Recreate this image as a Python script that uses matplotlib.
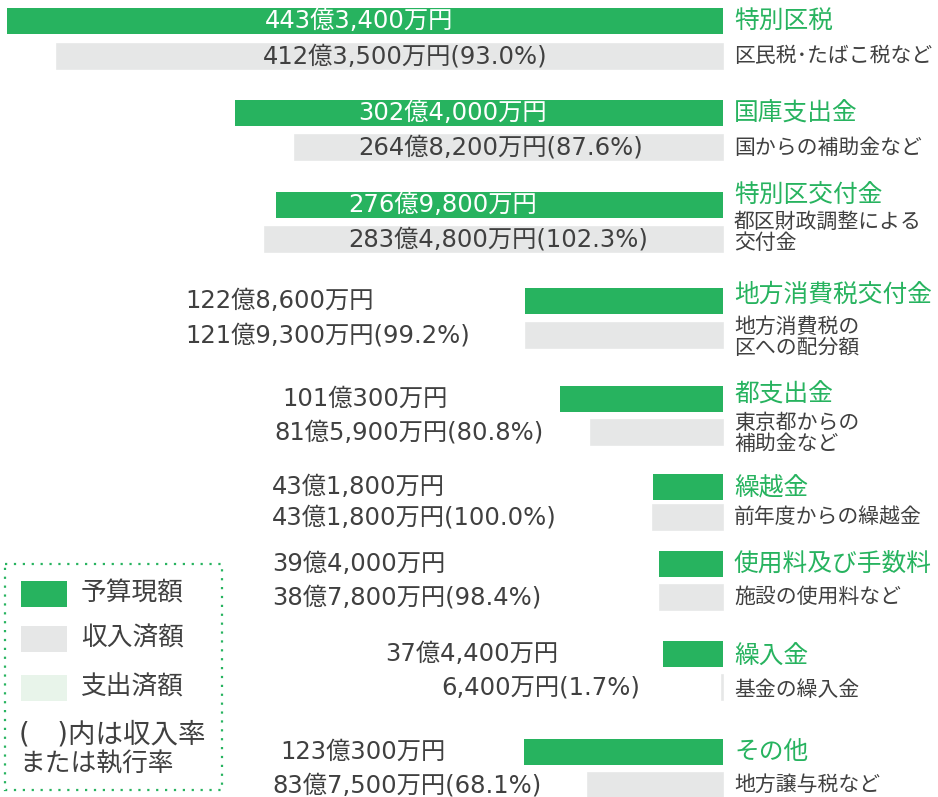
import matplotlib
matplotlib.use("Agg")
import matplotlib.pyplot as plt
from matplotlib.patches import Rectangle
from matplotlib.transforms import blended_transform_factory

plt.rcParams['font.family'] = ['Noto Sans CJK JP', 'DejaVu Sans']
NUMFONT = ['DejaVu Sans', 'Noto Sans CJK JP']

# データ（億円）
titles = ["特別区税", "国庫支出金", "特別区交付金", "地方消費税交付金", "都支出金",
          "繰越金", "使用料及び手数料", "繰入金", "その他"]
subtitles = ["区民税･たばこ税など", "国からの補助金など", "都区財政調整による\n交付金",
             "地方消費税の\n区への配分額", "東京都からの\n補助金など", "前年度からの繰越金",
             "施設の使用料など", "基金の繰入金", "地方譲与税など"]
budget = [443.34, 302.40, 276.98, 122.86, 101.03, 43.18, 39.40, 37.44, 123.03]
received = [412.35, 264.82, 283.48, 121.93, 81.59, 43.18, 38.78, 0.64, 83.75]
budget_labels = ["443億3,400万円", "302億4,000万円", "276億9,800万円", "122億8,600万円",
                 "101億300万円", "43億1,800万円", "39億4,000万円", "37億4,400万円", "123億300万円"]
received_labels = ["412億3,500万円(93.0%)", "264億8,200万円(87.6%)", "283億4,800万円(102.3%)",
                   "121億9,300万円(99.2%)", "81億5,900万円(80.8%)", "43億1,800万円(100.0%)",
                   "38億7,800万円(98.4%)", "6,400万円(1.7%)", "83億7,500万円(68.1%)"]
legend_labels = ["予算現額", "収入済額", "支出済額"]

GREEN = "#27b35f"
GRAY = "#e6e7e7"
LIGHT = "#e8f4ea"
TEXT = "#404040"

W, H = 938, 797
fig = plt.figure(figsize=(W / 100, H / 100), dpi=100)
ax = fig.add_axes([0, 0, 1, 1])
ax.axis("off")

# 横軸: 0 がピクセル723、1億 = 1.615px、左向きに伸びる
zero_px, scale = 723, 1.615
ax.set_xlim(zero_px / scale, -(W - zero_px) / scale)
ax.set_ylim(H, 0)

tr = blended_transform_factory(ax.transAxes, ax.transData)

def fx(px):
    return px / W

# レイアウト（ピクセル）
y_budget = [21, 113, 205, 301, 398.5, 486.5, 563.5, 653.5, 751.5]
y_recv = [56, 147.5, 239, 335, 432.5, 517, 597.5, 687.5, 785.5]
y_title = [21, 113, 195, 295, 395, 488, 564, 657, 752]
y_sub = [56, 148, 222, 327, 423, 517, 597, 690, 785]
lbl_x_budget = [265, 358, 348, 185, 282, 272, 272, 385, 280]
lbl_x_recv = [263, 358, 348, 185, 274, 272, 272, 441, 272]
inside = [True, True, True, False, False, False, False, False, False]

ax.barh(y_budget, budget, height=26, color=GREEN, linewidth=0)
ax.barh(y_recv, received, height=25, color=GRAY, edgecolor=GRAY, linewidth=1.2)

for i in range(len(titles)):
    ax.text(fx(lbl_x_budget[i]), y_budget[i], budget_labels[i], transform=tr,
            ha="left", va="center", fontsize=17.5, family=NUMFONT,
            color="white" if inside[i] else TEXT)
    ax.text(fx(lbl_x_recv[i]), y_recv[i], received_labels[i], transform=tr,
            ha="left", va="center", fontsize=17.5, family=NUMFONT, color=TEXT)
    ax.text(fx(734), y_title[i], titles[i], transform=tr, ha="left", va="center",
            fontsize=17.8, color=GREEN)
    for j, line in enumerate(subtitles[i].split("\n")):
        ax.text(fx(734), y_sub[i] + j * 21, line, transform=tr, ha="left",
                va="center", fontsize=15, color=TEXT)

# 凡例
ax.add_patch(Rectangle((fx(5), 564), fx(222) - fx(5), 226, transform=tr,
                       fill=False, edgecolor=GREEN, linestyle=(0, (1, 3)),
                       linewidth=1.6))
for k, (col, lab) in enumerate(zip([GREEN, GRAY, LIGHT], legend_labels)):
    y0 = [581, 626, 675][k]
    ax.add_patch(Rectangle((fx(21), y0), fx(67) - fx(21), 26, transform=tr,
                           facecolor=col, linewidth=0))
    ax.text(fx(81), y0 + 13, lab, transform=tr, ha="left", va="center",
            fontsize=18.5, color=TEXT)
ax.text(fx(19), 734, "(\u3000)内は収入率", transform=tr, ha="left", va="center",
        fontsize=19.8, family=NUMFONT, color=TEXT)
ax.text(fx(19), 764, "または執行率", transform=tr, ha="left", va="center",
        fontsize=18.5, color=TEXT)

fig.savefig("out.png", dpi=100, facecolor="white")
